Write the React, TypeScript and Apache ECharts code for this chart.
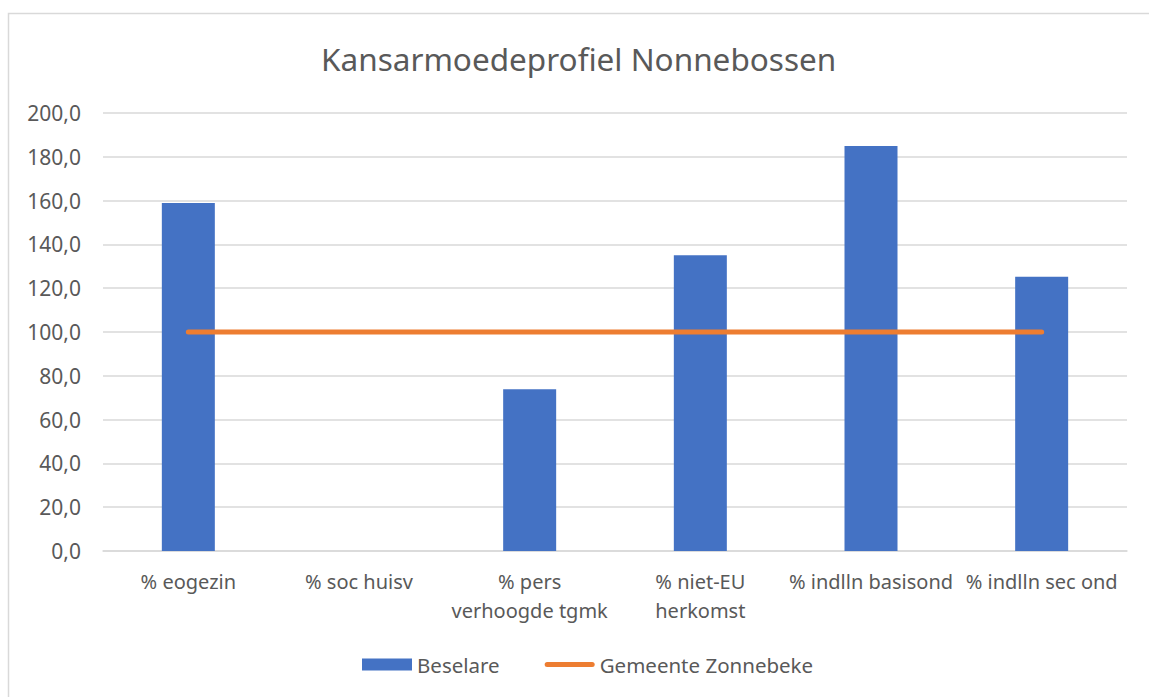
import React, { useEffect, useRef } from "react";
import * as echarts from "echarts";

const title = "Kansarmoedeprofiel Nonnebossen";
const categories = [
  "% eogezin",
  "% soc huisv",
  "% pers\nverhoogde tgmk",
  "% niet-EU\nherkomst",
  "% indlln basisond",
  "% indlln sec ond",
];
const beselare: (number | null)[] = [158.9, null, 73.9, 135.1, 184.9, 125.2];
const gemeente = [100, 100, 100, 100, 100, 100];
const seriesNames = ["Beselare", "Gemeente Zonnebeke"];

const FONT = "'Noto Sans', sans-serif";
const TXT = "#595959";
const LINE_ICON =
  "path://M0,0 M50,12 M2.5,3.5 L47.5,3.5 A2.5,2.5 0 0 1 47.5,8.5 L2.5,8.5 A2.5,2.5 0 0 1 2.5,3.5 Z";

export default function App() {
  const ref = useRef<HTMLDivElement>(null);
  useEffect(() => {
    if (!ref.current) return;
    const chart = echarts.init(ref.current, undefined, { renderer: "svg" });
    chart.setOption({
      animation: false,
      backgroundColor: "#ffffff",
      textStyle: { fontFamily: FONT },
      title: {
        text: title,
        left: 316,
        top: 37,
        textStyle: { fontFamily: FONT, fontSize: 31.5, fontWeight: "normal", color: TXT },
      },
      graphic: [
        {
          type: "rect",
          shape: { x: 8.5, y: 13.5, width: 1200, height: 720 },
          style: { fill: "none", stroke: "#D9D9D9", lineWidth: 1.5 },
          silent: true,
        },
      ],
      grid: { left: 103, right: 22, top: 113, bottom: 146 },
      legend: {
        left: 357,
        top: 649,
        itemWidth: 50,
        itemHeight: 12,
        itemGap: 45,
        textStyle: { fontFamily: FONT, fontSize: 20.5, color: TXT },
        data: [
          { name: seriesNames[0], icon: "rect" },
          { name: seriesNames[1], icon: LINE_ICON, itemStyle: { color: "#ED7D31" } },
        ],
      },
      xAxis: {
        type: "category",
        data: categories,
        axisLine: { lineStyle: { color: "#D9D9D9", width: 1.5 } },
        axisTick: { show: false },
        axisLabel: {
          interval: 0,
          margin: 16,
          fontFamily: FONT,
          fontSize: 20,
          color: TXT,
          lineHeight: 29,
        },
      },
      yAxis: {
        type: "value",
        min: 0,
        max: 200,
        interval: 20,
        axisLine: { show: false },
        axisTick: { show: false },
        splitLine: { lineStyle: { color: "#D9D9D9", width: 1.5 } },
        axisLabel: {
          margin: 22,
          fontFamily: FONT,
          fontSize: 21,
          color: TXT,
          formatter: (v: number) => v.toFixed(1).replace(".", ","),
        },
      },
      series: [
        {
          name: seriesNames[0],
          type: "bar",
          data: beselare,
          barWidth: 53,
          itemStyle: { color: "#4472C4" },
        },
        {
          name: seriesNames[1],
          type: "line",
          data: gemeente,
          symbol: "none",
          showSymbol: false,
          itemStyle: { color: "#ED7D31" },
          lineStyle: { color: "#ED7D31", width: 5, cap: "round" },
        },
      ],
    });
    return () => chart.dispose();
  }, []);
  return (
    <div
      ref={ref}
      style={{ position: "fixed", left: 0, top: 0, width: 1149, height: 697 }}
    />
  );
}
